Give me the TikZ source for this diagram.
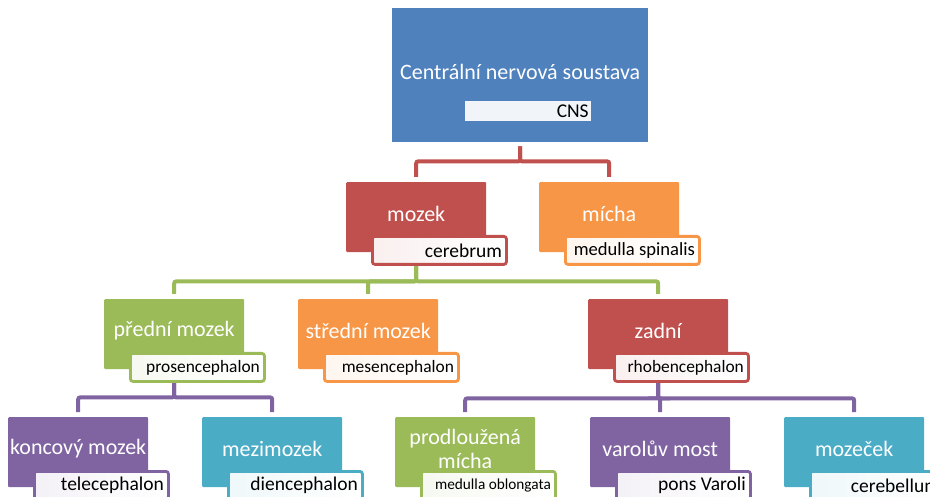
\documentclass[tikz,border=0pt]{standalone}
\usepackage{fontspec}
\setmainfont{Carlito}
\usetikzlibrary{calc,backgrounds}

\definecolor{cBlue}{HTML}{4F81BD}
\definecolor{cRed}{HTML}{C0504D}
\definecolor{cGreen}{HTML}{9BBB59}
\definecolor{cOrange}{HTML}{F79646}
\definecolor{cPurple}{HTML}{8064A2}
\definecolor{cAqua}{HTML}{4BACC6}

\tikzset{
  unitbox/.style={rectangle, rounded corners=1pt, minimum width=140pt, minimum height=70pt, inner sep=0pt},
  unittitle/.style={text=white, font=\fontsize{22}{26}\selectfont, align=center, inner sep=0pt},
  unitlabel/.style={rectangle, rounded corners=2.5pt, line width=2.8pt, minimum height=28pt,
    minimum width=134pt, inner xsep=4.5pt, inner ysep=0pt},
  conn/.style={line width=4pt, rounded corners=2pt},
}

% one unit of the tree: coloured box, title and the framed latin name below
\newcommand\orgunit[7][\fontsize{19.5}{21}\selectfont]{%
  \node[unitbox, fill=#5, anchor=north west] (#2) at (#3,#4) {};
  \node[unittitle] (#2-t) at ($(#2.north)+(0,32)$) {#6};
  \node[unitlabel, font=#1, draw=#5, left color=#5!9, right color=white, anchor=north west]
    (#2-l) at ($(#2.north west)+(25,53)$) {\hbox to 125pt{\hfill #7}};
}
\newcommand\midfont{\fontsize{17.4}{20}\selectfont}

\begin{document}
\begin{tikzpicture}[x=1pt, y=-1pt]
  \useasboundingbox (0,0) rectangle (930,497);

  % top node
  \node[rectangle, fill=cBlue, minimum width=256pt, minimum height=134pt, inner sep=0pt, anchor=north west]
    (cns) at (392,8) {};
  \node[unittitle] (cns-t) at ($(cns.north)+(0,64)$) {Centrální nervová soustava};
  \node[rectangle, fill=cBlue!8, minimum width=126pt, minimum height=20pt,
    inner xsep=2.5pt, inner ysep=0pt, font=\fontsize{19.5}{21}\selectfont, anchor=north west]
    (cns-l) at (465,101) {\hbox to 121pt{\hfill CNS}};

  % nodes of the tree
  \orgunit{mozek}{346}{182}{cRed}{mozek}{cerebrum}
  \orgunit[\fontsize{18.6}{20}\selectfont]{micha}{539}{182}{cOrange}{mícha}{medulla spinalis}

  \orgunit[\midfont]{predni}{104}{299}{cGreen}{přední mozek}{prosencephalon}
  \orgunit[\midfont]{stredni}{298}{299}{cOrange}{střední mozek}{mesencephalon}
  \orgunit[\midfont]{zadni}{588}{299}{cRed}{zadní}{rhobencephalon}

  \orgunit{koncovy}{8}{417}{cPurple}{koncový mozek}{telecephalon}
  \orgunit{mezi}{202}{417}{cAqua}{mezimozek}{diencephalon}
  \orgunit[\fontsize{15.3}{17}\selectfont]{prodl}{395}{417}{cGreen}{prodloužená\\[-2pt]mícha}{medulla oblongata}
  \orgunit{varol}{590}{417}{cPurple}{varolův most}{pons Varoli}
  \orgunit{mozecek}{784}{417}{cAqua}{mozeček}{cerebellum}

  % connectors, drawn behind the boxes with a small gap at each end
  \begin{scope}[on background layer]
    \draw[conn, cRed] ($(cns.south)+(0,4)$) -- ++(0,15) -| ($(mozek.north)+(0,-5)$);
    \draw[conn, cRed] ($(cns.south)+(0,4)$) -- ++(0,15) -| ($(micha.north)+(0,-5)$);

    \draw[conn, cGreen] (mozek.south) -- ++(0,29) -| ($(predni.north)+(0,-5)$);
    \draw[conn, cGreen] (mozek.south) -- ++(0,29) -| ($(stredni.north)+(0,-5)$);
    \draw[conn, cGreen] (mozek.south) -- ++(0,29) -| ($(zadni.north)+(0,-5)$);

    \draw[conn, cPurple] (predni.south) -- ++(0,28) -| ($(koncovy.north)+(0,-5)$);
    \draw[conn, cPurple] (predni.south) -- ++(0,28) -| ($(mezi.north)+(0,-5)$);

    \draw[conn, cPurple] (zadni.south) -- ++(0,29) -| ($(prodl.north)+(0,-5)$);
    \draw[conn, cPurple] (zadni.south) -- ++(0,29) -| ($(varol.north)+(0,-5)$);
    \draw[conn, cPurple] (zadni.south) -- ++(0,29) -| ($(mozecek.north)+(0,-5)$);
  \end{scope}
\end{tikzpicture}
\end{document}
